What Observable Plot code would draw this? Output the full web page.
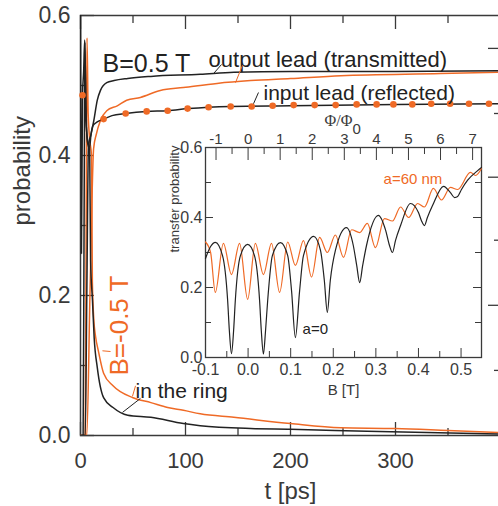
<!DOCTYPE html>
<html><head><meta charset="utf-8">
<script src="https://cdn.jsdelivr.net/npm/d3@7"></script>
<script src="https://cdn.jsdelivr.net/npm/@observablehq/plot@0.6"></script>
<style>
html,body{margin:0;padding:0;background:#fff;overflow:hidden}
#wrap{position:relative;width:498px;height:506px;overflow:hidden}
#main{position:absolute;left:0;top:0}
#inset{position:absolute;left:160px;top:100px}
</style></head><body><div id="wrap"><div id="main"></div><div id="inset"></div></div>
<script>
const ORANGE = "#ef6a26", BLACK = "#222", AXIS = "#3a3a3a";
const SANS = "Liberation Sans, Arial, sans-serif";

// ---------- main panel: [t (ps), probability] ----------
const transmittedB05 = [[0,0],[4.5,0],[6,0.2],[7.6,0.414],[10,0.43],[12.7,0.45],[16,0.479],[19,0.493],[25,0.504],[32,0.507],[45,0.51],[67,0.513],[114,0.516],[146,0.519],[200,0.52],[300,0.52],[400,0.521]];
const transmittedBm05 = [[0,0],[6,0],[9,0.2],[12.5,0.41],[15,0.43],[19,0.45],[25,0.464],[35,0.471],[44,0.479],[57,0.483],[76,0.493],[98,0.497],[130,0.503],[162,0.507],[200,0.51],[248,0.514],[343,0.517],[400,0.519]];
const reflectedB05 = [[0,0.62],[0.9,0.26],[1.9,0.486],[3,0.52],[4,0.565],[5.2,0.47],[6.5,0.42],[8.5,0.41],[10,0.43],[12,0.443],[16,0.448],[22,0.452],[30,0.457],[43,0.46],[63,0.463],[83,0.464],[103,0.467],[143,0.47],[200,0.471],[300,0.473],[400,0.474]];
const reflectedBm05T = [1.9,22,43,63,83,102,122,143,163,183,203,223,243,263,282,298,316,334,352,370,389];
const reflectedBm05P = [0.486,0.452,0.46,0.463,0.464,0.467,0.469,0.47,0.47,0.471,0.472,0.472,0.472,0.473,0.473,0.473,0.473,0.474,0.474,0.474,0.474];
const ringB05 = [[0,0],[2.5,0],[3.4,0.3],[4.2,0.562],[5.2,0.45],[7,0.42],[8.7,0.41],[9.6,0.25],[11.4,0.193],[13,0.14],[16,0.097],[22,0.054],[31,0.04],[45,0.029],[67,0.026],[98,0.017],[114,0.014],[162,0.01],[200,0.009],[273,0.006],[400,0.002]];
const ringBm05 = [[0,0],[4.5,0],[5.4,0.3],[6.2,0.568],[7.3,0.46],[9,0.42],[10.5,0.4],[11.3,0.22],[12.5,0.17],[14.5,0.14],[17,0.121],[22,0.089],[31,0.071],[50,0.054],[67,0.047],[83,0.04],[98,0.036],[114,0.031],[146,0.026],[200,0.017],[248,0.011],[300,0.01],[350,0.007],[400,0.004]];

const mainXMajor = [0,100,200,300,400], mainXMinor = [50,150,250,350];
const mainXLabels = [0,100,200,300];
const mainYMajor = [0,0.2,0.4,0.6], mainYMinor = [0.1,0.3,0.5];
const rightTicksLong = [0.186,0.369,0.553], rightTicksShort = [0.093,0.279,0.46];

// ---------- inset: [B (T), transfer probability] ----------
const insetA0 = [[-0.1,0.283],[-0.088,0.317],[-0.077,0.329],[-0.060,0.291],[-0.048,0.163],[-0.044,0.077],[-0.039,0.011],[-0.034,0.077],[-0.030,0.163],[-0.018,0.291],[-0.001,0.323],[0.015,0.291],[0.027,0.163],[0.031,0.077],[0.036,0.01],[0.041,0.077],[0.046,0.163],[0.057,0.291],[0.076,0.328],[0.093,0.291],[0.102,0.191],[0.111,0.057],[0.121,0.191],[0.130,0.291],[0.154,0.346],[0.170,0.306],[0.179,0.22],[0.186,0.129],[0.193,0.22],[0.205,0.306],[0.231,0.371],[0.247,0.32],[0.255,0.263],[0.262,0.214],[0.269,0.263],[0.278,0.32],[0.306,0.406],[0.323,0.363],[0.332,0.32],[0.339,0.30],[0.346,0.334],[0.358,0.377],[0.381,0.44],[0.400,0.414],[0.407,0.391],[0.414,0.377],[0.421,0.40],[0.433,0.434],[0.459,0.489],[0.475,0.471],[0.485,0.457],[0.492,0.46],[0.501,0.48],[0.515,0.506],[0.539,0.534],[0.548,0.543]];
const insetA60 = [[-0.1,0.33],[-0.088,0.30],[-0.077,0.186],[-0.058,0.326],[-0.039,0.237],[-0.020,0.326],[-0.001,0.166],[0.017,0.326],[0.036,0.237],[0.055,0.326],[0.074,0.186],[0.093,0.33],[0.111,0.263],[0.130,0.334],[0.149,0.23],[0.168,0.343],[0.186,0.30],[0.205,0.35],[0.224,0.286],[0.243,0.365],[0.262,0.357],[0.280,0.383],[0.299,0.314],[0.320,0.397],[0.339,0.39],[0.358,0.43],[0.377,0.40],[0.398,0.44],[0.414,0.43],[0.435,0.483],[0.454,0.45],[0.475,0.486],[0.492,0.48],[0.522,0.529],[0.534,0.52],[0.548,0.54]];
const insetXMajor = [-0.1,0,0.1,0.2,0.3,0.4,0.5], insetXMinor = [-0.05,0.05,0.15,0.25,0.35,0.45];
const insetYMajor = [0,0.2,0.4,0.6], insetYMinor = [0.1,0.3,0.5];
const phiMajor = [-1,0,1,2,3,4,5,6,7], phiMinor = [-0.5,0.5,1.5,2.5,3.5,4.5,5.5,6.5];
const PHI0_TESLA = 0.0753; // one flux quantum through the ring, in tesla

const X = d => d[0], Y = d => d[1];

// ---------- main plot ----------
const MW = 420, MH = 420; // inner frame size
const main = Plot.plot({
  width: 498, height: 506,
  marginLeft: 80, marginRight: -2, marginTop: 15, marginBottom: 71,
  x: {domain: [0, 400], axis: null},
  y: {domain: [0, 0.6], axis: null},
  style: {fontFamily: SANS, background: "transparent", overflow: "hidden"},
  marks: [
    Plot.frame({stroke: AXIS, strokeWidth: 1.5}),
    Plot.tickY(mainYMajor, {y: d => d, insetRight: MW - 14, stroke: AXIS, strokeWidth: 1.3}),
    Plot.tickY(mainYMinor, {y: d => d, insetRight: MW - 7, stroke: AXIS, strokeWidth: 1.3}),
    Plot.tickY(rightTicksLong, {y: d => d, insetLeft: MW - 12, stroke: AXIS, strokeWidth: 1.3}),
    Plot.tickY(rightTicksShort, {y: d => d, insetLeft: MW - 6, stroke: AXIS, strokeWidth: 1.3}),
    Plot.tickX(mainXMajor, {x: d => d, insetBottom: MH - 14, stroke: AXIS, strokeWidth: 1.3}),
    Plot.tickX(mainXMinor, {x: d => d, insetBottom: MH - 8, stroke: AXIS, strokeWidth: 1.3}),
    Plot.tickX(mainXMajor, {x: d => d, insetTop: MH - 13, stroke: AXIS, strokeWidth: 1.3}),
    Plot.tickX(mainXMinor, {x: d => d, insetTop: MH - 7, stroke: AXIS, strokeWidth: 1.3}),
    Plot.text(mainYMajor, {y: d => d, text: d => d.toFixed(1), frameAnchor: "left", textAnchor: "end", dx: -10, fontSize: 23, fill: AXIS}),
    Plot.text(mainXLabels, {x: d => d, text: d => String(d), frameAnchor: "bottom", lineAnchor: "top", dy: 17, fontSize: 22, fill: AXIS}),
    Plot.text(["t [ps]"], {text: d => d, frameAnchor: "bottom", lineAnchor: "bottom", dy: 63, fontSize: 24, fill: AXIS}),
    Plot.text(["probability"], {text: d => d, frameAnchor: "left", rotate: -90, dx: -58, fontSize: 24, fill: AXIS}),

    Plot.line(ringBm05, {x: X, y: Y, stroke: ORANGE, strokeWidth: 1.5, curve: "monotone-x", clip: true}),
    Plot.line(transmittedBm05, {x: X, y: Y, stroke: ORANGE, strokeWidth: 1.5, curve: "monotone-x", clip: true}),
    Plot.line(ringB05, {x: X, y: Y, stroke: BLACK, strokeWidth: 1.5, curve: "monotone-x", clip: true}),
    Plot.line(transmittedB05, {x: X, y: Y, stroke: BLACK, strokeWidth: 1.5, curve: "monotone-x", clip: true}),
    Plot.line(reflectedB05, {x: X, y: Y, stroke: BLACK, strokeWidth: 1.5, curve: "monotone-x", clip: true}),
    Plot.dot(reflectedBm05T, {x: d => d, y: (d, i) => reflectedBm05P[i], r: 3.3, fill: ORANGE, stroke: "none"}),

    // annotations
    Plot.text(["B=0.5 T"], {x: 21, y: 0.519, text: d => d, textAnchor: "start", lineAnchor: "bottom", fontSize: 25, fill: BLACK}),
    Plot.text(["output lead (transmitted)"], {x: 122, y: 0.526, text: d => d, textAnchor: "start", lineAnchor: "bottom", fontSize: 22, fill: BLACK}),
    Plot.text(["input lead (reflected)"], {x: 174.3, y: 0.48, text: d => d, textAnchor: "start", lineAnchor: "bottom", fontSize: 21, fill: BLACK}),
    Plot.text(["in the ring"], {x: 52.4, y: 0.054, text: d => d, textAnchor: "start", lineAnchor: "bottom", fontSize: 21, fill: BLACK}),
    Plot.text(["B=-0.5 T"], {x: 45.7, y: 0.0857, text: d => d, textAnchor: "start", lineAnchor: "bottom", rotate: -90, fontSize: 26, fill: ORANGE}),
    Plot.link([[134.3,0.53,126.7,0.517],[169.5,0.49,164.8,0.474],[57.1,0.053,40,0.033]], {x1: d => d[0], y1: d => d[1], x2: d => d[2], y2: d => d[3], stroke: BLACK, strokeWidth: 1}),
    Plot.link([[154.3,0.529,147.6,0.504],[52.4,0.071,49.5,0.056],[20.9,0.121,28.6,0.12]], {x1: d => d[0], y1: d => d[1], x2: d => d[2], y2: d => d[3], stroke: ORANGE, strokeWidth: 1})
  ]
});
document.getElementById("main").append(main);

// ---------- inset ----------
const IW = 276, IH = 210;
const inset = Plot.plot({
  width: 338, height: 300,
  marginLeft: 45, marginRight: 17, marginTop: 47, marginBottom: 43,
  x: {domain: [-0.1, 0.548], axis: null},
  y: {domain: [0, 0.6], axis: null},
  style: {fontFamily: SANS, background: "transparent", overflow: "visible"},
  marks: [
    Plot.frame({stroke: AXIS, strokeWidth: 1.3}),
    Plot.tickY(insetYMajor, {y: d => d, insetRight: IW - 8, stroke: AXIS}),
    Plot.tickY(insetYMinor, {y: d => d, insetRight: IW - 6, stroke: AXIS}),
    Plot.tickY(insetYMajor, {y: d => d, insetLeft: IW - 8, stroke: AXIS}),
    Plot.tickY(insetYMinor, {y: d => d, insetLeft: IW - 6, stroke: AXIS}),
    Plot.tickX(insetXMajor, {x: d => d, insetTop: IH - 9, stroke: AXIS}),
    Plot.tickX(insetXMinor, {x: d => d, insetTop: IH - 6, stroke: AXIS}),
    Plot.tickX(phiMajor, {x: d => d * PHI0_TESLA, insetBottom: IH - 13, stroke: AXIS}),
    Plot.tickX(phiMinor, {x: d => d * PHI0_TESLA, insetBottom: IH - 7, stroke: AXIS}),
    Plot.text(insetYMajor, {y: d => d, text: d => d.toFixed(1), frameAnchor: "left", textAnchor: "end", dx: -3, fontSize: 16, fill: AXIS}),
    Plot.text(insetXMajor, {x: d => d, text: d => d.toFixed(1), frameAnchor: "bottom", lineAnchor: "top", dy: 6, fontSize: 16, fill: AXIS}),
    Plot.text(phiMajor, {x: d => d * PHI0_TESLA, text: d => String(d), frameAnchor: "top", lineAnchor: "bottom", dy: -4, fontSize: 15, fill: AXIS}),
    Plot.text(["B [T]"], {text: d => d, frameAnchor: "bottom", lineAnchor: "bottom", dy: 37, fontSize: 15, fill: AXIS}),
    Plot.text(["transfer probability"], {text: d => d, frameAnchor: "left", rotate: -90, dx: -31, fontSize: 13, fill: AXIS}),
    Plot.text(["Φ/Φ"], {x: 0.245, text: d => d, frameAnchor: "top", textAnchor: "end", lineAnchor: "bottom", dy: -22, fontSize: 16, fontFamily: "Liberation Serif, serif", fill: AXIS}),
    Plot.text(["0"], {x: 0.245, text: d => d, frameAnchor: "top", textAnchor: "start", lineAnchor: "bottom", dy: -14, fontSize: 15, fill: AXIS}),

    Plot.line(insetA60, {x: X, y: Y, stroke: ORANGE, strokeWidth: 1.2, curve: "monotone-x"}),
    Plot.line(insetA0, {x: X, y: Y, stroke: BLACK, strokeWidth: 1.2, curve: "monotone-x"}),
    Plot.text(["a=60 nm"], {x: 0.318, y: 0.497, text: d => d, textAnchor: "start", lineAnchor: "bottom", fontSize: 15, fill: ORANGE}),
    Plot.text(["a=0"], {x: 0.128, y: 0.066, text: d => d, textAnchor: "start", lineAnchor: "bottom", fontSize: 15, fill: BLACK})
  ]
});
document.getElementById("inset").append(inset);
</script>
</body></html>
